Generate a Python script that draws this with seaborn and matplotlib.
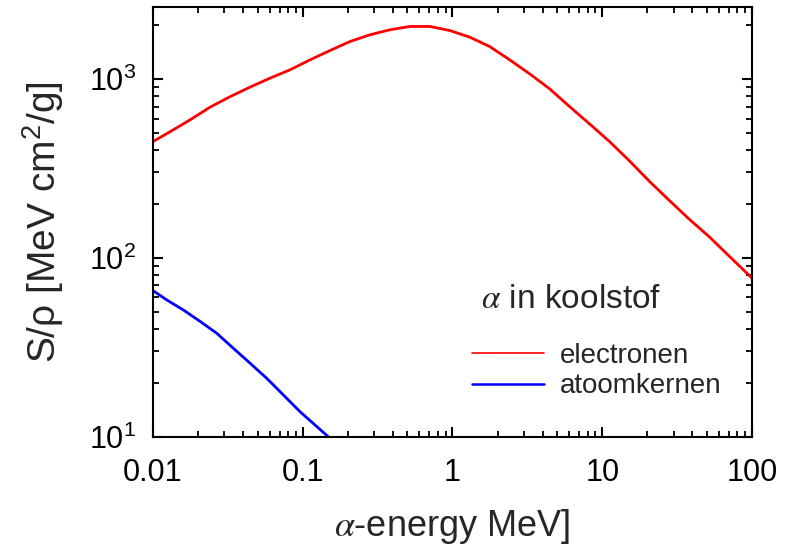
import numpy as np
import pandas as pd
import matplotlib
matplotlib.use("Agg")
import matplotlib.pyplot as plt
import matplotlib.ticker as mticker
from matplotlib.lines import Line2D
import seaborn as sns

# electronic stopping (red)
e_energy = [0.01, 0.01304, 0.01774, 0.0241, 0.0328, 0.0445, 0.0605, 0.0823, 0.112, 0.152,
            0.207, 0.281, 0.382, 0.519, 0.706, 0.959, 1.30, 1.77, 2.41, 3.28, 4.45,
            6.05, 8.23, 11.2, 15.2, 20.7, 28.1, 38.2, 51.9, 70.6, 100.0]
e_stop = [446, 507, 591, 695, 796, 899, 1009, 1123, 1277, 1439,
          1617, 1762, 1880, 1962, 1962, 1862, 1711, 1516, 1277, 1066, 880,
          700, 560, 446, 348, 267, 209, 164, 131, 102, 77]
# nuclear stopping (blue)
n_energy = [0.01, 0.0124, 0.016, 0.0207, 0.0267, 0.0344, 0.0446, 0.0575, 0.0743, 0.0959, 0.148, 0.2]
n_stop = [65.5, 58, 51, 44, 37.8, 31.2, 25.7, 21.2, 17.1, 13.8, 10.0, 7.6]

series_names = ["electronen", "atoomkernen"]
x_ticks = [0.01, 0.1, 1, 10, 100]
x_ticklabels = ["0.01", "0.1", "1", "10", "100"]

df = pd.concat([
    pd.DataFrame({"E": e_energy, "S": e_stop, "soort": series_names[0]}),
    pd.DataFrame({"E": n_energy, "S": n_stop, "soort": series_names[1]}),
])

sns.set_style("ticks")
plt.rcParams["font.family"] = ["Liberation Sans", "DejaVu Sans"]
plt.rcParams["mathtext.fontset"] = "stix"
plt.rcParams["mathtext.default"] = "regular"

fig = plt.figure(figsize=(7.94, 5.53), dpi=100)
ax = fig.add_axes([0.1927, 0.2103, 0.7543, 0.7776])

sns.lineplot(data=df, x="E", y="S", hue="soort", palette=["#ff0000", "#0000ff"],
             linewidth=2.0, ax=ax, legend=False, sort=False)
ax.set_xscale("log")
ax.set_yscale("log")
ax.set_xlim(0.01, 100)
ax.set_ylim(10, 2530)

ax.set_xticks(x_ticks)
ax.set_xticklabels(x_ticklabels)
ax.xaxis.set_minor_locator(mticker.LogLocator(base=10, subs=np.arange(2, 10), numticks=20))
ax.xaxis.set_minor_formatter(mticker.NullFormatter())
ax.set_yticks([10, 100, 1000])
ax.yaxis.set_major_formatter(mticker.FuncFormatter(lambda v, p: r"$10^{%d}$" % int(round(np.log10(v)))))
ax.yaxis.set_minor_locator(mticker.LogLocator(base=10, subs=np.arange(2, 10), numticks=20))
ax.yaxis.set_minor_formatter(mticker.NullFormatter())

ax.tick_params(which="both", direction="in", top=True, right=True, labelsize=22, colors="black")
ax.tick_params(axis="x", which="major", pad=15)
ax.tick_params(axis="y", which="major", pad=12)
ax.tick_params(which="major", length=7, width=1.5)
ax.tick_params(which="minor", length=4, width=1.3)
for s in ax.spines.values():
    s.set_linewidth(1.5)
    s.set_color("black")

ax.set_xlabel(r"$\mathit{\alpha}$-energy MeV]", fontsize=26, labelpad=14)
ax.set_ylabel(r"S/$\rho$ [MeV cm$^2$/g]", fontsize=28, labelpad=17)

handles = [Line2D([], [], color="#ff0000", lw=1.2), Line2D([], [], color="#0000ff", lw=1.8)]
leg = ax.legend(handles, series_names, title=r" $\mathit{\alpha}$ in koolstof", frameon=False,
                fontsize=20, title_fontsize=24, loc="upper left",
                bbox_to_anchor=(458 / 794, 1 - 270 / 553), bbox_transform=fig.transFigure,
                handlelength=2.6, handletextpad=0.55, labelspacing=0.17, borderpad=0)
leg._legend_box.align = "left"
leg._legend_box.sep = 20

fig.savefig("out.png", dpi=100)
